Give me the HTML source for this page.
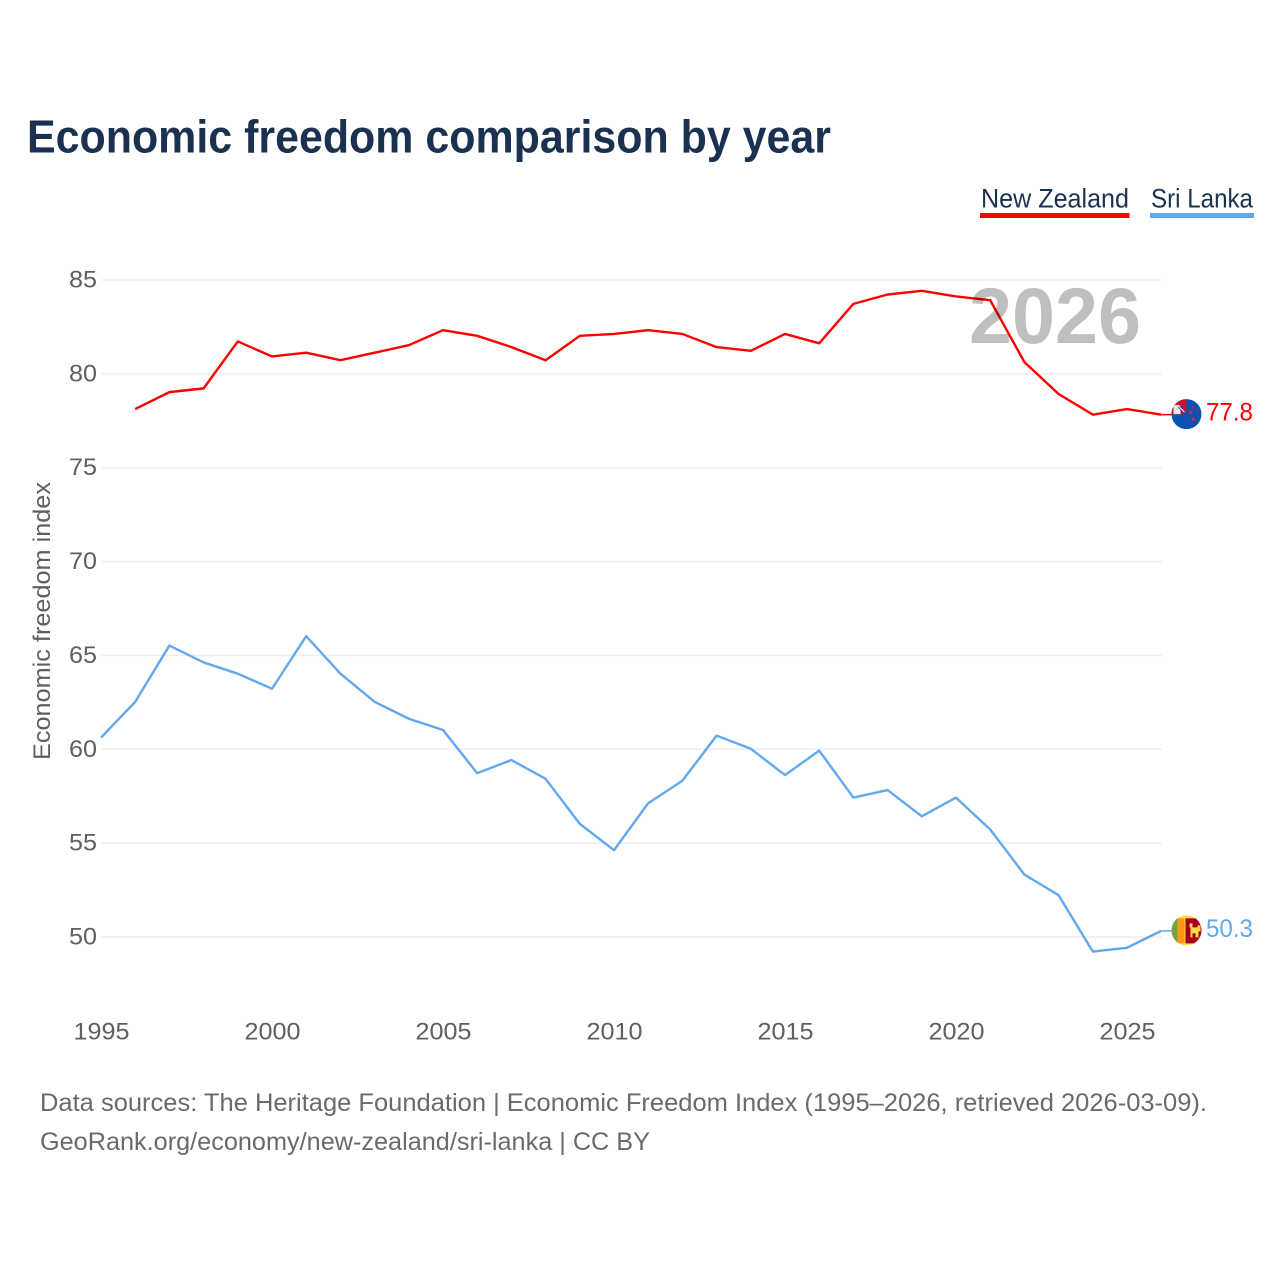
<!DOCTYPE html>
<html lang="en">
<head>
<meta charset="utf-8">
<title>Economic freedom comparison by year</title>
<style>
html,body{margin:0;padding:0;background:#fff;}
svg{display:block;}
text{font-family:"Liberation Sans",sans-serif;}
</style>
</head>
<body>
<svg id="chart" xmlns="http://www.w3.org/2000/svg" width="1280" height="1280" viewBox="0 0 1280 1280">
  <defs>
    <clipPath id="nz-clip"><circle cx="0" cy="0" r="15"></circle></clipPath>
    <clipPath id="lk-clip"><circle cx="0" cy="0" r="15"></circle></clipPath>
  </defs>
  <rect x="0" y="0" width="1280" height="1280" fill="#fff"></rect>
  <text x="27" y="152.500" font-size="46" font-weight="700" fill="#1a3150" textLength="804" lengthAdjust="spacingAndGlyphs">Economic freedom comparison by year</text>

  <g>
    <text x="981" y="207.500" font-size="27" fill="#1a3150" textLength="148" lengthAdjust="spacingAndGlyphs">New Zealand</text>
    <rect x="980" y="213" width="149.500" height="5" fill="#ff0000"></rect>
  </g>
  <g>
    <text x="1151" y="207.500" font-size="27" fill="#1a3150" textLength="102" lengthAdjust="spacingAndGlyphs">Sri Lanka</text>
    <rect x="1150" y="213" width="104" height="5" fill="#62a8ee"></rect>
  </g>

  <g id="grid"></g>
  <g id="y-ticks"></g>
  <g id="x-ticks"></g>
  <text transform="translate(50,621) rotate(-90)" text-anchor="middle" font-size="24" fill="#5f5f5f" textLength="278" lengthAdjust="spacingAndGlyphs">Economic freedom index</text>

  <g id="series"></g>
  <text x="969" y="343" font-size="79" font-weight="700" fill="#000" fill-opacity="0.25" textLength="172" lengthAdjust="spacingAndGlyphs">2026</text>

  <g id="nz-flag">
    <g clip-path="url(#nz-clip)">
      <rect x="-15" y="-15" width="30" height="30" fill="#0a52b0"></rect>
      <rect x="-15" y="-15" width="15" height="15" fill="#c8102e"></rect>
      <path d="M-13 -9 H-6 V0 H-13 Z" fill="#f4e6ea"></path>
      <path d="M-8 -8 L-1 -1" stroke="#0a52b0" stroke-width="2.500" fill="none"></path>
      <path d="M-9 -9 L-2 -2" stroke="#fff" stroke-width="1" fill="none"></path>
      <circle cx="4" cy="-2" r="1.600" fill="#d8262c"></circle>
      <circle cx="11" cy="-3" r="1" fill="#d8262c"></circle>
      <circle cx="7" cy="-7" r="1.200" fill="#d8262c"></circle>
      <circle cx="7" cy="5" r="1.700" fill="#d8262c"></circle>
    </g>
  </g>
  <text id="nz-end-label" x="1206" font-size="25" fill="#ff0000" textLength="47" lengthAdjust="spacingAndGlyphs"></text>

  <g id="lk-flag">
    <g clip-path="url(#lk-clip)">
      <rect x="-15" y="-15" width="30" height="30" fill="#ffda44"></rect>
      <rect x="-15" y="-12" width="6" height="25" fill="#6da544"></rect>
      <rect x="-9" y="-12" width="7" height="25" fill="#ff9811"></rect>
      <rect x="-1" y="-12" width="17" height="25" fill="#a2001d"></rect>
      <path d="M3 -7 H6 V-3 H11 V-5 H14 V1 H12 V7 H9 V3 H6 V7 H4 V-3 H3 Z" fill="#ffda44"></path>
    </g>
  </g>
  <text id="lk-end-label" x="1206" font-size="25" fill="#62a8ee" textLength="47" lengthAdjust="spacingAndGlyphs"></text>

  <text x="40" y="1111" font-size="25" fill="#6a6a6a" textLength="1167" lengthAdjust="spacingAndGlyphs">Data sources: The Heritage Foundation | Economic Freedom Index (1995–2026, retrieved 2026-03-09).</text>
  <text x="40" y="1150" font-size="25" fill="#6a6a6a" textLength="610" lengthAdjust="spacingAndGlyphs">GeoRank.org/economy/new-zealand/sri-lanka | CC BY</text>
</svg>
<script>
const yTickValues = [50, 55, 60, 65, 70, 75, 80, 85];
const xTickValues = [1995, 2000, 2005, 2010, 2015, 2020, 2025];
const years = [1995,1996,1997,1998,1999,2000,2001,2002,2003,2004,2005,2006,2007,2008,2009,2010,2011,2012,2013,2014,2015,2016,2017,2018,2019,2020,2021,2022,2023,2024,2025,2026];
const newZealand = [null,78.1,79.0,79.2,81.7,80.9,81.1,80.7,81.1,81.5,82.3,82.0,81.4,80.7,82.0,82.1,82.3,82.1,81.4,81.2,82.1,81.6,83.7,84.2,84.4,84.1,83.9,80.6,78.9,77.8,78.1,77.8];
const sriLanka = [60.6,62.5,65.5,64.6,64.0,63.2,66.0,64.0,62.5,61.6,61.0,58.7,59.4,58.4,56.0,54.6,57.1,58.3,60.7,60.0,58.6,59.9,57.4,57.8,56.4,57.4,55.7,53.3,52.2,49.2,49.4,50.3];

const SVG_NS = 'http://www.w3.org/2000/svg';
const xScale = function (year) { return 101 + (year - 1995) * (1127 - 101) / 30; };
const yScale = function (value) { return 936.5 + (value - 50) * (279.5 - 936.5) / 35; };

function make(tag, parent) {
  const el = document.createElementNS(SVG_NS, tag);
  parent.appendChild(el);
  return el;
}

const grid = document.getElementById('grid');
const yTicks = document.getElementById('y-ticks');
const xTicks = document.getElementById('x-ticks');

yTickValues.forEach(function (v) {
  const gy = yScale(v) + 0.5;
  const line = make('line', grid);
  
  
  line.setAttribute('x1', xScale(1995) + 0.5);
  line.setAttribute('x2', xScale(2026) + 0.5);
  line.setAttribute('y1', gy);
  line.setAttribute('y2', gy);
  line.setAttribute('stroke', '#eeeeee');
  line.setAttribute('stroke-width', '1.500');

  const label = make('text', yTicks);
  
  
  label.setAttribute('x', 97);
  label.setAttribute('y', gy + 7.500);
  label.setAttribute('text-anchor', 'end');
  label.setAttribute('font-size', '24');
  label.setAttribute('fill', '#5f5f5f');
  label.setAttribute('textLength', '28');
  label.setAttribute('lengthAdjust', 'spacingAndGlyphs');
  label.textContent = v;
});

xTickValues.forEach(function (y) {
  const label = make('text', xTicks);
  
  
  label.setAttribute('x', xScale(y) + 0.5);
  label.setAttribute('y', 1039.500);
  label.setAttribute('text-anchor', 'middle');
  label.setAttribute('font-size', '24');
  label.setAttribute('fill', '#5f5f5f');
  label.setAttribute('textLength', '56');
  label.setAttribute('lengthAdjust', 'spacingAndGlyphs');
  label.textContent = y;
});

function pathFor(values) {
  let d = '';
  values.forEach(function (v, i) {
    if (v === null) return;
    d += (d ? 'L' : 'M') + xScale(years[i]).toFixed(2) + ' ' + yScale(v).toFixed(2);
  });
  return d;
}

const seriesGroup = document.getElementById('series');

const nzLine = make('path', seriesGroup);


nzLine.setAttribute('d', pathFor(newZealand));
nzLine.setAttribute('fill', 'none');
nzLine.setAttribute('stroke', '#ff0000');
nzLine.setAttribute('stroke-width', '2.400');
nzLine.setAttribute('stroke-linejoin', 'round');

const lkLine = make('path', seriesGroup);


lkLine.setAttribute('d', pathFor(sriLanka));
lkLine.setAttribute('fill', 'none');
lkLine.setAttribute('stroke', '#62a8ee');
lkLine.setAttribute('stroke-width', '2.400');
lkLine.setAttribute('stroke-linejoin', 'round');

const flagX = 1186.5;

function placeEnd(values, flagId, labelId, color, connectorName) {
  const last = values[values.length - 1];
  const y = yScale(last);
  const connector = make('line', seriesGroup);
  
  
  connector.setAttribute('x1', xScale(2026));
  connector.setAttribute('x2', flagX - 15);
  connector.setAttribute('y1', y);
  connector.setAttribute('y2', y);
  connector.setAttribute('stroke', color);
  connector.setAttribute('stroke-width', '1.500');
  document.getElementById(flagId).setAttribute('transform', 'translate(' + flagX + ',' + (y - 0.5) + ')');
  const label = document.getElementById(labelId);
  label.setAttribute('y', y + 6);
  label.textContent = last.toFixed(1);
}

placeEnd(newZealand, 'nz-flag', 'nz-end-label', '#ff0000', 'connector-new-zealand');
placeEnd(sriLanka, 'lk-flag', 'lk-end-label', '#62a8ee', 'connector-sri-lanka');
</script>
</body>
</html>
